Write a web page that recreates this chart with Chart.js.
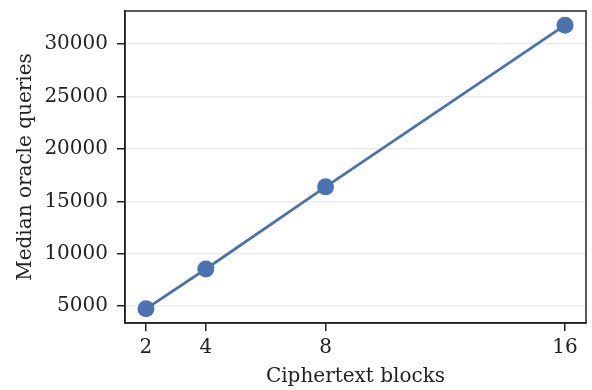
<!DOCTYPE html>
<html>
<head>
<meta charset="utf-8">
<script src="https://cdn.jsdelivr.net/npm/chart.js@4/dist/chart.umd.min.js"></script>
<style>
  html, body { margin: 0; padding: 0; background: #fff; }
  #wrap { width: 592px; height: 390px; position: relative; }
</style>
</head>
<body>
<div id="wrap"><canvas id="c" width="592" height="390"></canvas></div>
<script>
const blocks = [2, 4, 8, 16];
const medianQueries = [4750, 8550, 16380, 31800];
const xTicks = [2, 4, 8, 16];
const yTicks = [5000, 10000, 15000, 20000, 25000, 30000];
const xTitle = 'Ciphertext blocks';
const yTitle = 'Median oracle queries';

const FONT = "'DejaVu Serif', serif";
const COLOR = '#4c72b0';

const framePlugin = {
  id: 'frame',
  afterDraw(chart) {
    const a = chart.chartArea, ctx = chart.ctx;
    ctx.save();
    ctx.strokeStyle = '#222';
    ctx.lineWidth = 1.5;
    ctx.strokeRect(a.left, a.top, a.right - a.left, a.bottom - a.top);
    ctx.restore();
  }
};

new Chart(document.getElementById('c'), {
  type: 'scatter',
  data: {
    datasets: [{
      data: blocks.map((b, i) => ({ x: b, y: medianQueries[i] })),
      showLine: true,
      borderColor: COLOR,
      backgroundColor: COLOR,
      borderWidth: 2.8,
      pointRadius: 8.5,
      pointHoverRadius: 8.5,
      pointBorderWidth: 0,
      clip: false
    }]
  },
  options: {
    responsive: false,
    animation: false,
    devicePixelRatio: 1,
    layout: { autoPadding: false, padding: { left: 0, top: 11, right: 6, bottom: 0 } },
    plugins: { legend: { display: false }, tooltip: { enabled: false } },
    scales: {
      x: {
        type: 'linear',
        min: 1.3, max: 16.7,
        afterBuildTicks: s => { s.ticks = xTicks.map(v => ({ value: v })); },
        afterFit: s => { s.height = 67; s.paddingLeft = 0; s.paddingRight = 0; },
        grid: { drawOnChartArea: false, tickColor: '#222', tickLength: 8, lineWidth: 1.5 },
        border: { color: '#222', width: 1.5 },
        ticks: { color: '#222', font: { family: FONT, size: 20 }, padding: 5, maxRotation: 0 },
        title: { display: true, text: xTitle, color: '#222', font: { family: FONT, size: 20 }, padding: { top: 1, bottom: 1 } }
      },
      y: {
        type: 'linear',
        min: 3400, max: 33150,
        afterBuildTicks: s => { s.ticks = yTicks.map(v => ({ value: v })); },
        afterFit: s => { s.width = 125; s.paddingTop = 0; s.paddingBottom = 0; },
        grid: { color: '#ebebeb', tickColor: '#222', tickLength: 8, lineWidth: 1.5 },
        border: { color: '#222', width: 1.5 },
        ticks: { color: '#222', font: { family: FONT, size: 20 }, padding: 9, callback: v => String(v) },
        title: { display: true, text: yTitle, color: '#222', font: { family: FONT, size: 20 }, padding: { top: 14, bottom: 6 } }
      }
    }
  },
  plugins: [framePlugin]
});
</script>
</body>
</html>
